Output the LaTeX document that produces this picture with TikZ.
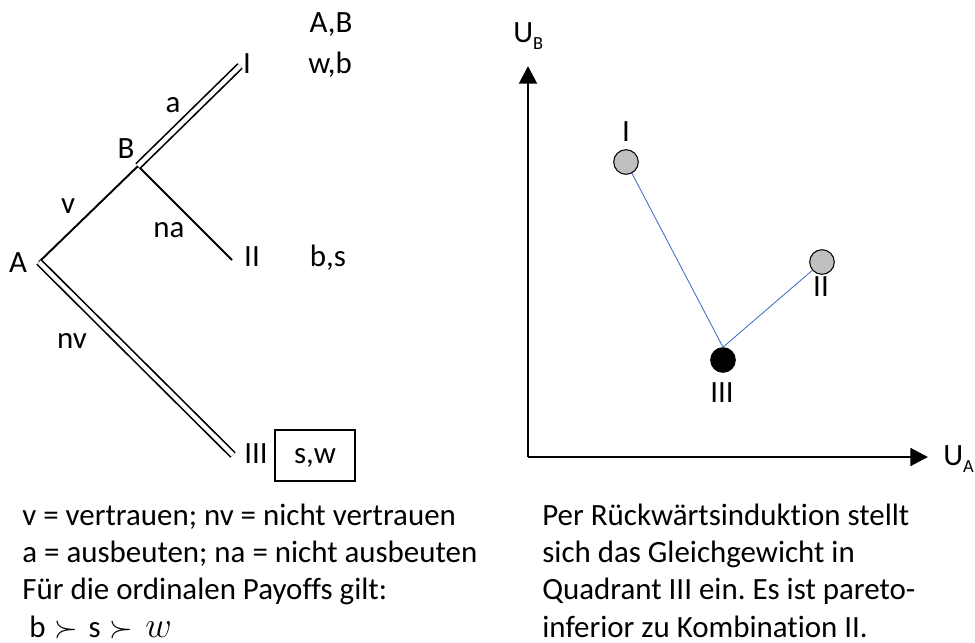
\documentclass[tikz,border=0pt]{standalone}
\usepackage{fontspec}
\setmainfont{Carlito}[Ligatures={NoCommon}]
\usepackage{tikz}
\usetikzlibrary{arrows.meta,positioning}
\frenchspacing

\tikzset{
  branch/.style={line width=1.1pt},
  played/.style={double,double distance=2.5pt,line width=0.95pt},
  lbl/.style={anchor=base,inner sep=0pt,font=\fontsize{17.6}{21.1}\selectfont},
  axis/.style={line width=1.7pt,-{Triangle[length=10pt,width=10pt]}},
  outcome/.style={circle,draw,line width=0.6pt,minimum size=14pt,inner sep=0pt,fill={rgb,255:red,192;green,192;blue,192}},
  path/.style={draw={rgb,255:red,68;green,114;blue,196},line width=0.5pt}
}

\begin{document}
\begin{tikzpicture}[x=0.02cm,y=-0.02cm]
\useasboundingbox (0,0) rectangle (975,643);
% game tree
\coordinate (A) at (39,262);
\coordinate (B) at (138,166);
\coordinate (I) at (240,66);
\coordinate (II) at (232,260);
\coordinate (III) at (233,455);
\draw[branch] (A) -- (B);
\draw[branch] (B) -- (II);
\draw[played] (B) -- (I);
\draw[played] (A) -- (III);
\node[lbl] (lA) at (18,272) {A};
\node[lbl] (lB) at (126,158) {B};
\node[lbl] (la) at (173,112) {a};
\node[lbl] (lv) at (68,213) {v};
\node[lbl] (lna) at (169,237) {na};
\node[lbl] (lnv) at (72,348) {nv};
\node[lbl] (lI) at (247,73) {I};
\node[lbl] (lII) at (252,266) {II};
\node[lbl] (lIII) at (256,463) {III};
\node[lbl] (pay) at (331,32) {A,B};
\node[lbl] (payI) at (330,73) {w,b};
\node[lbl] (payII) at (328,266) {b,s};
\draw[line width=1.1pt] (275,430) rectangle (355,481);
\node[lbl] (payIII) at (315,463) {s,w};
\node[lbl,anchor=base west,align=left] (legend) at (22,637)
  {v = vertrauen; nv = nicht vertrauen\\
   a = ausbeuten; na = nicht ausbeuten\\
   Für die ordinalen Payoffs gilt:\\
   \hspace{4pt}b\hspace{5pt}$\succ$\hspace{6pt}s\hspace{5pt}$\succ$\hspace{7pt}{\fontsize{20}{21}\selectfont$w$}};
% utility space
\coordinate (O) at (528,457);
\coordinate (yend) at (528,66);
\coordinate (xend) at (928,457);
\draw[axis] (O) -- (yend);
\draw[axis] (O) -- (xend);
\node[lbl,anchor=base west] (UB) at (513,42) {U\raisebox{-4pt}{\fontsize{10.5}{10.5}\selectfont B}};
\node[lbl,anchor=base west] (UA) at (943,465) {U\raisebox{-4pt}{\fontsize{10.5}{10.5}\selectfont A}};
\node[outcome] (pI) at (626,162) {};
\node[outcome] (pII) at (822,262) {};
\node[outcome,fill=black] (pIII) at (723,360) {};
\draw[path] (pI) -- (pIII.north) -- (pII);
\node[lbl] (tI) at (626,141) {I};
\node[lbl] (tII) at (821,296) {II};
\node[lbl] (tIII) at (722,402) {III};
\node[lbl,anchor=base west,align=left] (summary) at (542,637)
  {Per Rückwärtsinduktion stellt\\
   sich das Gleichgewicht in\\
   Quadrant III ein. Es ist pareto-\\
   inferior zu Kombination II.};
\end{tikzpicture}
\end{document}
